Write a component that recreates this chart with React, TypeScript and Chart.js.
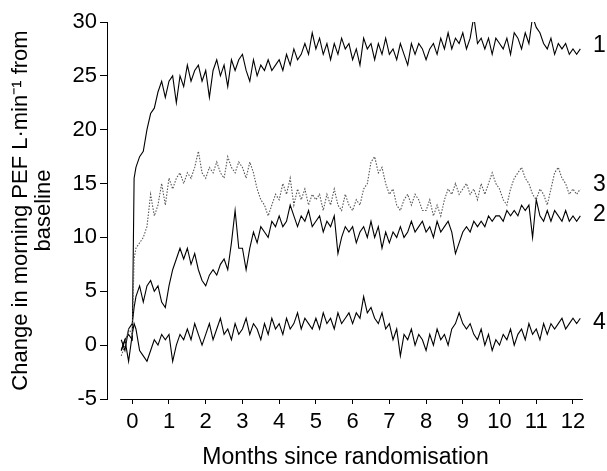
import React, { useEffect, useRef } from "react";
import { Chart, registerables } from "chart.js";

Chart.register(...registerables);

// Months since randomisation (shared x positions of every series)
const months = [
  -0.3, -0.2, -0.1, 0, 0.05,
  0.1, 0.2, 0.3, 0.4, 0.5, 0.6, 0.7, 0.8, 0.9,
  1.0, 1.1, 1.2, 1.3, 1.4, 1.5, 1.6, 1.7, 1.8, 1.9,
  2.0, 2.1, 2.2, 2.3, 2.4, 2.5, 2.6, 2.7, 2.8, 2.9,
  3.0, 3.1, 3.2, 3.3, 3.4, 3.5, 3.6, 3.7, 3.8, 3.9,
  4.0, 4.1, 4.2, 4.3, 4.4, 4.5, 4.6, 4.7, 4.8, 4.9,
  5.0, 5.1, 5.2, 5.3, 5.4, 5.5, 5.6, 5.7, 5.8, 5.9,
  6.0, 6.1, 6.2, 6.3, 6.4, 6.5, 6.6, 6.7, 6.8, 6.9,
  7.0, 7.1, 7.2, 7.3, 7.4, 7.5, 7.6, 7.7, 7.8, 7.9,
  8.0, 8.1, 8.2, 8.3, 8.4, 8.5, 8.6, 8.7, 8.8, 8.9,
  9.0, 9.1, 9.2, 9.3, 9.4, 9.5, 9.6, 9.7, 9.8, 9.9,
  10.0, 10.1, 10.2, 10.3, 10.4, 10.5, 10.6, 10.7, 10.8, 10.9,
  11.0, 11.1, 11.2, 11.3, 11.4, 11.5, 11.6, 11.7, 11.8, 11.9,
  12.0, 12.1, 12.2,
];

// Series 1
const series1 = [
  -0.5, 0.5, 1.0, 0.5, 15.5,
  16.5, 17.5, 18.0, 20.0, 21.5, 22.0, 23.5, 24.5, 23.0,
  24.5, 25.0, 22.5, 25.0, 24.0, 26.0, 24.5, 25.5, 26.0, 24.5,
  25.5, 23.0, 25.5, 26.5, 25.0, 26.0, 24.0, 26.5, 25.5, 26.5,
  27.0, 25.5, 24.5, 26.5, 25.0, 26.0, 25.5, 26.5, 25.5, 26.0,
  26.5, 25.5, 27.0, 26.0, 27.5, 26.5, 27.0, 28.0, 27.0, 29.0,
  27.5, 28.5, 27.0, 28.0, 26.5, 28.0, 27.0, 28.5, 27.5, 28.0,
  26.5, 27.5, 26.0, 28.5, 27.5, 28.0, 26.5, 28.0, 27.0, 28.5,
  27.0, 27.5, 26.5, 28.0, 27.0, 26.0, 28.0, 27.0, 28.0, 27.5,
  26.5, 27.5, 28.0, 27.0, 28.5, 27.5, 29.0, 27.5, 28.5, 28.0,
  29.0, 27.5, 28.5, 30.5, 28.0, 28.5, 27.5, 28.5, 27.0, 28.5,
  28.0, 27.5, 28.5, 27.0, 29.0, 28.5, 27.5, 29.0, 28.0, 30.5,
  29.5, 29.0, 28.0, 27.5, 28.5, 27.0, 28.0, 27.5, 28.0, 27.0,
  27.5, 27.0, 27.5,
];

// Series 2
const series2 = [
  0.5, -0.5, 1.5, 2.0, 3.5,
  4.5, 5.5, 4.0, 5.5, 6.0, 5.0, 5.5, 4.0, 3.5,
  5.5, 7.0, 8.0, 9.0, 8.0, 9.0, 7.5, 8.5, 7.0, 6.0,
  5.5, 6.5, 7.0, 6.5, 7.5, 8.0, 7.0, 9.5, 12.5, 9.0,
  9.0, 7.0, 9.0, 10.5, 9.5, 11.0, 10.5, 10.0, 11.5, 11.0,
  12.0, 11.0, 11.5, 13.0, 12.0, 11.0, 12.0, 11.5, 12.5, 11.0,
  11.5, 12.0, 10.5, 11.5, 11.0, 12.0, 8.5, 10.0, 11.0, 10.5,
  11.0, 9.5, 10.5, 11.0, 10.0, 11.5, 10.0, 11.0, 9.0, 10.5,
  9.5, 10.5, 10.0, 11.0, 10.0, 10.5, 11.5, 10.5, 11.0, 11.5,
  10.5, 11.0, 10.0, 11.5, 10.5, 11.0, 11.5, 10.5, 8.5, 9.5,
  10.5, 11.0, 10.5, 11.5, 11.0, 11.5, 11.0, 12.0, 11.5, 12.0,
  12.0, 11.5, 12.5, 12.0, 12.5, 12.0, 13.0, 12.5, 13.0, 10.0,
  13.5, 12.0, 11.5, 12.5, 11.5, 12.5, 12.0, 11.5, 12.5, 11.5,
  12.0, 11.5, 12.0,
];

// Series 3 (dotted)
const series3 = [
  -1.0, 0.0, 1.5, 1.0, 8.0,
  9.0, 9.5, 10.0, 11.0, 14.0, 12.0, 13.0, 15.0, 13.0,
  15.5, 14.5, 15.5, 16.0, 15.0, 16.0, 15.5, 16.5, 18.0, 16.0,
  15.5, 16.5, 16.0, 17.0, 16.0, 15.5, 17.5, 16.5, 16.0, 17.0,
  16.5, 15.5, 17.0, 16.0, 14.5, 13.5, 13.0, 12.0, 13.0, 14.0,
  13.5, 15.0, 14.0, 15.5, 13.0, 14.5, 13.5, 14.5, 13.0, 14.0,
  13.5, 14.0, 12.5, 14.0, 13.0, 14.5, 13.0, 12.5, 14.0, 13.0,
  12.5, 13.5, 13.0, 14.5, 15.0, 17.0, 17.5, 16.0, 16.5, 15.0,
  14.0, 14.5, 13.0, 12.5, 13.5, 14.0, 13.0, 14.0, 13.5, 12.5,
  12.5, 13.5, 12.0, 13.0, 12.0, 13.5, 14.5, 14.0, 15.0, 14.0,
  14.5, 15.0, 14.0, 14.5, 13.5, 15.0, 14.0, 15.0, 16.0, 15.0,
  14.5, 13.5, 13.0, 14.5, 15.5, 16.0, 16.5, 15.5, 15.0, 14.0,
  13.5, 14.5, 14.0, 13.0, 14.5, 16.0, 16.5, 15.5, 15.0, 14.0,
  14.5, 14.0, 14.5,
];

// Series 4
const series4 = [
  -0.5, 0.5, -1.5, 1.0, 2.0,
  1.5, -0.5, -1.0, -1.5, -0.5, 0.5, 0.0, 1.0, 0.5,
  1.0, -1.5, 0.0, 1.0, 0.5, 1.5, 0.5, 2.0, 1.0, 0.0,
  1.0, 2.0, 0.5, 1.5, 2.5, 1.0, 1.5, 0.5, 2.0, 1.0,
  1.5, 2.5, 1.0, 2.0, 1.5, 0.5, 2.0, 1.0, 2.5, 1.5,
  2.0, 1.0, 2.5, 1.5, 2.0, 3.0, 1.5, 2.5, 2.0, 1.5,
  2.5, 1.5, 3.0, 2.0, 2.5, 1.5, 3.0, 2.0, 2.5, 3.0,
  2.0, 3.0, 2.5, 4.5, 3.0, 3.5, 2.5, 2.0, 3.0, 1.5,
  2.0, 0.5, 1.5, -1.0, 1.0, 0.5, 1.5, 0.0, 1.0, 0.5,
  -0.5, 1.0, 0.0, 1.5, 0.5, 1.0, 0.0, 1.5, 2.0, 3.0,
  2.0, 1.5, 2.0, 1.0, 0.5, 1.5, 0.0, 1.0, -0.5, 0.5,
  0.0, 1.0, 0.5, 1.5, 0.0, 1.0, 1.5, 0.5, 2.0, 1.0,
  1.5, 0.5, 2.0, 1.0, 2.0, 1.5, 2.0, 2.5, 1.5, 2.0,
  2.5, 2.0, 2.5,
];

const seriesNames = ["1", "2", "3", "4"];
const endLabelValues = [27.8, 12.1, 14.9, 2.1];
const xTicks = [0, 1, 2, 3, 4, 5, 6, 7, 8, 9, 10, 11, 12];
const yTicks = [-5, 0, 5, 10, 15, 20, 25, 30];
const xAxisExtent = [-0.33, 12.27];
const xTitle = "Months since randomisation";
const yTitle = ["Change in morning PEF L\u00b7min\u207b\u00b9 from", "baseline"];

const FONT = '"Liberation Sans", Arial, Helvetica, sans-serif';

export default function App() {
  const canvasRef = useRef<HTMLCanvasElement | null>(null);

  useEffect(() => {
    document.body.style.margin = "0";
    const canvas = canvasRef.current;
    if (!canvas) return;

    const toPoints = (vals: number[]) => months.map((m, i) => ({ x: m, y: vals[i] }));

    const extras = {
      id: "extras",
      afterDraw(chart: any) {
        const ctx = chart.ctx;
        const area = chart.chartArea;
        const xs = chart.scales.x;
        const ys = chart.scales.y;
        ctx.save();
        ctx.strokeStyle = "#000";
        ctx.lineWidth = 1;
        ctx.beginPath();
        const yb = Math.round(area.bottom) + 0.5;
        ctx.moveTo(xs.getPixelForValue(xAxisExtent[0]), yb);
        ctx.lineTo(xs.getPixelForValue(xAxisExtent[1]), yb);
        ctx.stroke();
        ctx.fillStyle = "#000";
        ctx.font = `23px ${FONT}`;
        ctx.textAlign = "left";
        ctx.textBaseline = "middle";
        seriesNames.forEach((n, i) => {
          ctx.fillText(n, area.right + 9, ys.getPixelForValue(endLabelValues[i]));
        });
        ctx.restore();
      },
    };

    const lineBase = {
      pointRadius: 0,
      pointHoverRadius: 0,
      tension: 0,
      fill: false,
      borderWidth: 1.1,
    };

    const chart = new Chart(canvas, {
      type: "line",
      data: {
        datasets: [
          { ...lineBase, label: seriesNames[2], data: toPoints(series3), borderColor: "#555", borderDash: [1.5, 1.5] },
          { ...lineBase, label: seriesNames[1], data: toPoints(series2), borderColor: "#000" },
          { ...lineBase, label: seriesNames[3], data: toPoints(series4), borderColor: "#000" },
          { ...lineBase, label: seriesNames[0], data: toPoints(series1), borderColor: "#000" },
        ],
      },
      options: {
        animation: false,
        responsive: false,
        maintainAspectRatio: false,
        events: [],
        layout: { padding: { top: 22, right: 23, bottom: 0, left: 0 } },
        plugins: {
          legend: { display: false },
          tooltip: { enabled: false },
          title: { display: false },
        },
        scales: {
          x: {
            type: "linear",
            min: -0.688,
            max: 12.3,
            afterBuildTicks: (scale: any) => {
              scale.ticks = xTicks.map((v) => ({ value: v }));
            },
            afterFit: (scale: any) => {
              scale.height = 72;
            },
            border: { display: false },
            grid: {
              display: true,
              drawOnChartArea: false,
              drawTicks: true,
              tickLength: 5,
              color: "#000",
              lineWidth: 1,
            },
            ticks: {
              autoSkip: false,
              maxRotation: 0,
              padding: 5,
              color: "#000",
              font: { family: FONT, size: 22 },
              callback: (v: any) => String(v),
            },
            title: {
              display: true,
              text: xTitle,
              color: "#000",
              font: { family: FONT, size: 23 },
              padding: { top: 0, bottom: 0 },
            },
          },
          y: {
            type: "linear",
            min: -5,
            max: 30,
            afterBuildTicks: (scale: any) => {
              scale.ticks = yTicks.map((v) => ({ value: v }));
            },
            afterFit: (scale: any) => {
              scale.width = 107;
            },
            border: { display: true, color: "#000", width: 1 },
            grid: {
              display: true,
              drawOnChartArea: false,
              drawTicks: true,
              tickLength: 7,
              color: "#000",
              lineWidth: 1,
            },
            ticks: {
              autoSkip: false,
              padding: 3,
              color: "#000",
              font: { family: FONT, size: 22 },
              callback: (v: any) => String(v),
            },
            title: {
              display: true,
              text: yTitle,
              color: "#000",
              font: { family: FONT, size: 22, lineHeight: 1.05 },
              padding: { top: 9, bottom: 0 },
            },
          },
        },
      },
      plugins: [extras],
    });

    return () => chart.destroy();
  }, []);

  return (
    <div style={{ width: 607, height: 471 }}>
      <canvas ref={canvasRef} width={607} height={471} style={{ display: "block" }} />
    </div>
  );
}
